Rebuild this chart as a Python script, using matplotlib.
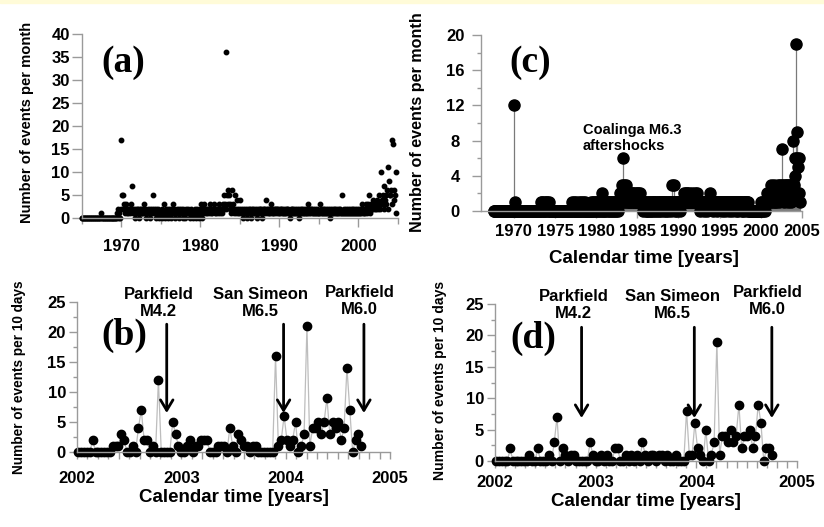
import numpy as np
import matplotlib.pyplot as plt
from matplotlib.ticker import MultipleLocator
from matplotlib.patches import Rectangle

plt.rcParams['font.family'] = 'Liberation Sans'
plt.rcParams['font.weight'] = 'bold'
plt.rcParams['axes.labelweight'] = 'bold'
plt.rcParams['axes.formatter.use_mathtext'] = False

W, H = 824, 527  # figure size in pixels

# Panel (a): events per month, Jan 1965 .. Oct 2004 (one row per year).
rows_a = [
    [0, 0, 0, 0, 0, 0, 0, 0, 0, 0, 0, 0],
    [0, 0, 0, 0, 0, 0, 0, 0, 0, 0, 0, 0],
    [0, 0, 0, 0, 0, 1, 0, 0, 0, 0, 0, 0],
    [0, 0, 0, 0, 0, 0, 0, 0, 0, 0, 0, 0],
    [0, 0, 0, 0, 0, 0, 1, 2, 0, 1, 0, 2],
    [17, 5, 5, 2, 3, 1, 2, 3, 1, 2, 1, 2],
    [2, 1, 3, 2, 7, 1, 2, 1, 2, 0, 1, 2],
    [1, 2, 1, 0, 2, 1, 2, 1, 1, 2, 3, 1],
    [2, 1, 0, 1, 2, 1, 1, 0, 2, 1, 2, 1],
    [5, 2, 1, 1, 0, 2, 1, 2, 1, 0, 1, 1],
    [1, 0, 2, 1, 3, 1, 0, 2, 1, 1, 2, 0],
    [1, 2, 1, 0, 1, 2, 3, 1, 2, 1, 0, 1],
    [2, 1, 1, 2, 0, 1, 1, 2, 1, 0, 2, 1],
    [1, 0, 2, 1, 1, 2, 1, 1, 0, 2, 1, 1],
    [0, 1, 1, 2, 1, 0, 1, 2, 1, 1, 0, 2],
    [3, 1, 2, 0, 2, 1, 3, 2, 1, 2, 1, 2],
    [2, 1, 3, 2, 1, 2, 1, 2, 3, 2, 1, 2],
    [1, 2, 2, 1, 3, 2, 1, 2, 2, 1, 3, 5],
    [2, 3, 36, 2, 5, 3, 6, 5, 2, 3, 1, 2],
    [6, 2, 3, 1, 2, 5, 1, 2, 4, 1, 2, 1],
    [4, 1, 2, 1, 0, 2, 1, 2, 1, 1, 2, 0],
    [1, 2, 1, 2, 1, 0, 2, 1, 2, 1, 1, 2],
    [1, 2, 0, 1, 2, 1, 2, 1, 2, 0, 1, 2],
    [2, 1, 2, 1, 4, 2, 1, 2, 1, 2, 1, 3],
    [1, 2, 1, 2, 1, 2, 2, 1, 2, 1, 2, 1],
    [2, 1, 2, 1, 2, 1, 2, 1, 1, 2, 1, 2],
    [1, 2, 1, 0, 1, 2, 1, 2, 1, 2, 1, 1],
    [2, 1, 1, 2, 1, 0, 2, 1, 2, 1, 2, 1],
    [1, 2, 1, 1, 2, 1, 1, 3, 2, 1, 1, 2],
    [2, 1, 2, 1, 1, 2, 1, 1, 2, 1, 1, 1],
    [1, 3, 1, 2, 1, 1, 2, 1, 2, 1, 2, 1],
    [1, 2, 1, 1, 0, 2, 1, 1, 2, 1, 1, 2],
    [2, 1, 1, 2, 1, 1, 2, 1, 2, 1, 5, 1],
    [1, 2, 1, 1, 2, 1, 1, 2, 1, 1, 2, 1],
    [1, 1, 2, 1, 2, 1, 1, 2, 1, 1, 2, 1],
    [2, 1, 1, 2, 1, 3, 1, 2, 1, 2, 1, 3],
    [2, 1, 3, 5, 2, 1, 2, 3, 2, 4, 2, 3],
    [2, 3, 2, 4, 3, 2, 5, 3, 2, 10, 3, 4],
    [3, 5, 2, 7, 4, 5, 3, 6, 2, 11, 8, 5],
    [5, 6, 3, 17, 16, 6, 4, 5, 10, 1],
]

# Panel (c): events per month, Jul 1967 .. Oct 2004.
rows_c = [
    [0, 0, 0, 0, 0, 0],
    [0, 0, 0, 0, 0, 0, 0, 0, 0, 0, 0, 0],
    [0, 0, 0, 0, 0, 0, 0, 0, 0, 0, 0, 0],
    [12, 1, 0, 0, 0, 0, 0, 0, 0, 0, 0, 0],
    [0, 0, 0, 0, 0, 0, 0, 0, 0, 0, 0, 0],
    [0, 0, 0, 0, 0, 0, 0, 0, 0, 0, 0, 0],
    [0, 0, 0, 1, 0, 1, 0, 1, 0, 0, 1, 0],
    [1, 0, 1, 0, 0, 0, 0, 0, 0, 0, 0, 0],
    [0, 0, 0, 0, 0, 0, 0, 0, 0, 0, 0, 0],
    [0, 0, 0, 0, 0, 0, 0, 0, 0, 0, 0, 0],
    [1, 0, 0, 1, 0, 0, 1, 0, 0, 0, 1, 0],
    [0, 1, 0, 0, 1, 0, 0, 1, 0, 0, 0, 0],
    [0, 0, 0, 0, 1, 0, 0, 1, 0, 1, 0, 1],
    [0, 1, 0, 1, 1, 0, 0, 1, 2, 0, 1, 0],
    [1, 0, 1, 0, 1, 1, 0, 1, 0, 1, 0, 1],
    [0, 1, 1, 0, 1, 0, 1, 1, 0, 1, 2, 1],
    [2, 3, 1, 6, 3, 2, 1, 3, 2, 1, 2, 1],
    [1, 2, 1, 2, 1, 2, 1, 1, 2, 1, 1, 2],
    [1, 2, 1, 1, 2, 1, 1, 1, 0, 1, 1, 1],
    [0, 0, 1, 0, 1, 1, 0, 1, 0, 1, 1, 0],
    [1, 0, 1, 1, 0, 1, 1, 0, 1, 1, 0, 1],
    [1, 1, 0, 1, 1, 0, 1, 1, 0, 1, 1, 1],
    [1, 0, 3, 1, 1, 3, 0, 1, 1, 0, 1, 1],
    [1, 1, 0, 1, 1, 1, 1, 2, 1, 1, 2, 1],
    [2, 1, 1, 2, 1, 1, 1, 2, 1, 1, 1, 2],
    [1, 1, 2, 1, 1, 1, 1, 0, 1, 1, 1, 1],
    [1, 0, 1, 1, 1, 0, 1, 1, 1, 1, 2, 1],
    [1, 1, 0, 1, 1, 1, 1, 0, 1, 1, 1, 1],
    [1, 1, 1, 0, 1, 1, 1, 1, 0, 1, 1, 1],
    [1, 0, 1, 1, 1, 1, 0, 1, 1, 1, 1, 0],
    [1, 1, 1, 0, 1, 1, 1, 1, 0, 1, 0, 1],
    [1, 1, 0, 1, 1, 1, 0, 0, 0, 0, 0, 0],
    [0, 0, 0, 0, 0, 0, 0, 0, 0, 0, 0, 0],
    [1, 0, 1, 0, 1, 1, 0, 1, 1, 2, 1, 1],
    [1, 2, 1, 3, 2, 1, 2, 3, 1, 2, 1, 2],
    [2, 3, 1, 2, 3, 2, 3, 7, 2, 3, 1, 2],
    [3, 2, 3, 1, 3, 2, 3, 1, 2, 3, 3, 8],
    [3, 6, 4, 19, 6, 9, 5, 6, 2, 1],
]

# Panel (b): events per 10 days from 1 Jan 2002.
counts_b = [0, 0, 0, 0, 0, 2, 0, 0, 0, 0, 0, 0, 1, 1, 1, 3, 2, 0, 0, 1,
            0, 4, 7, 2, 2, 0, 1, 0, 12, 0, 0, 0, 0, 5, 3, 1, 0, 0, 1, 2,
            0, 1, 1, 2, 2, 2, 0, 0, 0, 1, 1, 1, 0, 4, 1, 0, 3, 2, 1, 1,
            0, 1, 1, 0, 0, 0, 0, 0, 0, 16, 1, 2, 6, 2, 1, 2, 5, 0, 1, 3,
            21, 1, 4, 4, 5, 3, 5, 9, 3, 5, 4, 5, 2, 4, 14, 7, 0, 2, 3, 1]

# Panel (d): events per 10 days from 1 Jan 2002.
counts_d = [0, 0, 0, 0, 0, 2, 0, 0, 0, 0, 0, 0, 1, 0, 0, 2, 0, 0, 0, 1,
            0, 3, 7, 0, 2, 1, 0, 1, 1, 0, 0, 0, 0, 0, 3, 1, 0, 0, 1, 0,
            1, 0, 0, 2, 2, 0, 0, 1, 0, 1, 0, 1, 0, 3, 1, 0, 1, 1, 0, 1,
            1, 0, 1, 0, 0, 1, 0, 0, 0, 8, 1, 1, 6, 2, 1, 0, 5, 0, 1, 3,
            19, 1, 4, 4, 3, 5, 3, 4, 9, 2, 4, 4, 5, 2, 4, 9, 6, 0, 2, 2, 1]

event_labels = ['Parkfield\nM4.2', 'San Simeon\nM6.5', 'Parkfield\nM6.0']
event_times = [2002.86, 2003.98, 2004.75]
label_times = [2002.78, 2003.76, 2004.71]

# tick positions / labels
xt_a = [1970, 1980, 1990, 2000]
yt_a = [0, 5, 10, 15, 20, 25, 30, 35, 40]
xt_c = [1970, 1975, 1980, 1985, 1990, 1995, 2000, 2005]
yt_c = [0, 4, 8, 12, 16, 20]
xt_bd = [2002, 2003, 2004, 2005]
yt_bd = [0, 5, 10, 15, 20, 25]

month_a = np.concatenate(rows_a)
month_c = np.concatenate(rows_c)
t_a = 1965 + (np.arange(len(month_a)) + 0.5) / 12
t_c = 1967.5 + (np.arange(len(month_c)) + 0.5) / 12
t_b = 2002 + (np.arange(len(counts_b)) + 0.5) * 10 / 365.25
t_d = 2002 + (np.arange(len(counts_d)) + 0.5) * 10 / 365.25

GRAY = '#9a9a9a'
TICKFONT = dict(fontsize=12, fontweight='bold', family='Liberation Sans')


def box(left, top, right, bottom):
    # axes rectangle from pixel edges
    return [left / W, 1 - bottom / H, (right - left) / W, (bottom - top) / H]


def style(ax, ybounds, xbounds, xt, yt):
    for s in ['top', 'right']:
        ax.spines[s].set_visible(False)
    ax.spines['bottom'].set_position(('data', 0))
    ax.spines['left'].set_bounds(*ybounds)
    ax.spines['bottom'].set_bounds(*xbounds)
    for s in ['left', 'bottom']:
        ax.spines[s].set_color(GRAY)
        ax.spines[s].set_linewidth(1)
    ax.set_xticks(xt, [str(v) for v in xt], **TICKFONT)
    ax.set_yticks(yt, [str(v) for v in yt], **TICKFONT)
    ax.tick_params(which='both', color=GRAY, width=1)
    ax.patch.set_alpha(0)


def panel_letter(x, y, s):
    fig.text(x / W, 1 - y / H, s, fontsize=27, family='Liberation Serif',
             weight='bold', ha='center', va='center')


fig = plt.figure(figsize=(W / 100, H / 100), dpi=100)
fig.patches.append(Rectangle((0, 1 - 3 / H), 1, 3 / H, transform=fig.transFigure,
                             color='#fffbd8', zorder=0))

# (a)
ax = fig.add_axes(box(81.5, 30.3, 398, 223.5))
style(ax, (0, 40), (1965, 2005), xt_a, yt_a)
ax.set_xlim(1965, 2005)
ax.set_ylim(-1.2, 40.8)
ax.plot(t_a, month_a, 'o', color='black', ms=3.2, clip_on=False)
ax.xaxis.set_minor_locator(MultipleLocator(5))
ax.tick_params(axis='x', which='major', length=6.5, pad=8.5)
ax.tick_params(axis='x', which='minor', length=4)
ax.tick_params(axis='y', length=7, pad=1.5)
panel_letter(123, 63, '(a)')

# (c)
ax = fig.add_axes(box(481, 28, 806, 221.6))
style(ax, (0, 20), (1966, 2005), xt_c, yt_c)
ax.set_xlim(1966, 2005.5)
ax.set_ylim(-1.2, 20.8)
ax.vlines(t_c, 0, month_c, color='#7a7a7a', lw=0.9)
ax.plot(t_c, month_c, 'o', color='black', ms=8, clip_on=False)
ax.yaxis.set_minor_locator(MultipleLocator(2))
ax.tick_params(axis='x', length=5, pad=4.5)
ax.tick_params(axis='y', which='major', length=6.5, pad=12)
ax.tick_params(axis='y', which='minor', length=3)
for lbl in ax.get_yticklabels():
    lbl.set_horizontalalignment('center')
ax.set_xlabel('Calendar time [years]', fontsize=13.5, fontweight='bold', labelpad=8)
ax.text(1978.4, 8.3, 'Coalinga M6.3\naftershocks', fontsize=10.5,
        fontweight='bold', ha='left', va='center', linespacing=1.25)
panel_letter(530, 63, '(c)')


def ten_day_panel(rect, counts, times, tip, text_y, tick_pad):
    ax = fig.add_axes(box(*rect))
    style(ax, (0, 25), (2002, 2005), xt_bd, yt_bd)
    ax.set_xlim(2002, 2005)
    ax.set_ylim(-1, 25.5)
    ax.plot(times, counts, '-', color='#bdbdbd', lw=0.9, zorder=1)
    ax.plot(times, counts, 'o', color='black', ms=6, clip_on=False, zorder=2)
    ax.xaxis.set_minor_locator(MultipleLocator(0.1))
    ax.yaxis.set_minor_locator(MultipleLocator(2.5))
    ax.tick_params(axis='x', which='both', length=5, pad=tick_pad)
    ax.tick_params(axis='y', which='major', length=6, pad=2)
    ax.tick_params(axis='y', which='minor', length=3)
    ax.set_xlabel('Calendar time [years]', fontsize=13.5, fontweight='bold', labelpad=2)
    for name, tx, ex, ty in zip(event_labels, label_times, event_times, text_y):
        ax.text(tx, ty, name, fontsize=12, fontweight='bold', ha='center',
                va='center', linespacing=1.15, clip_on=False)
        ax.annotate('', xy=(ex, tip), xytext=(ex, 21.3), annotation_clip=False,
                    arrowprops=dict(arrowstyle='->,head_length=0.75,head_width=0.45',
                                    lw=2, color='black', shrinkA=0, shrinkB=0))
    return ax


# (b) and (d)
ten_day_panel((77, 299, 390, 458), counts_b, t_b, 6.5, [24.9, 24.9, 25.2], 9)
panel_letter(124, 335, '(b)')
ten_day_panel((495, 300.9, 797, 467.3), counts_d, t_d, 6.85, [24.8, 24.8, 25.5], 5)
panel_letter(533, 338, '(d)')

# y-axis titles
fig.text(27 / W, 1 - 122 / H, 'Number of events per month', rotation=90,
         fontsize=10.6, fontweight='bold', ha='center', va='center')
fig.text(417 / W, 1 - 122 / H, 'Number of events per month', rotation=90,
         fontsize=11.6, fontweight='bold', ha='center', va='center')
fig.text(19 / W, 1 - 377 / H, 'Number of events per 10 days', rotation=90,
         fontsize=9.8, fontweight='bold', ha='center', va='center')
fig.text(440 / W, 1 - 380 / H, 'Number of events per 10 days', rotation=90,
         fontsize=10.1, fontweight='bold', ha='center', va='center')

fig.savefig('out.png', dpi=100)
